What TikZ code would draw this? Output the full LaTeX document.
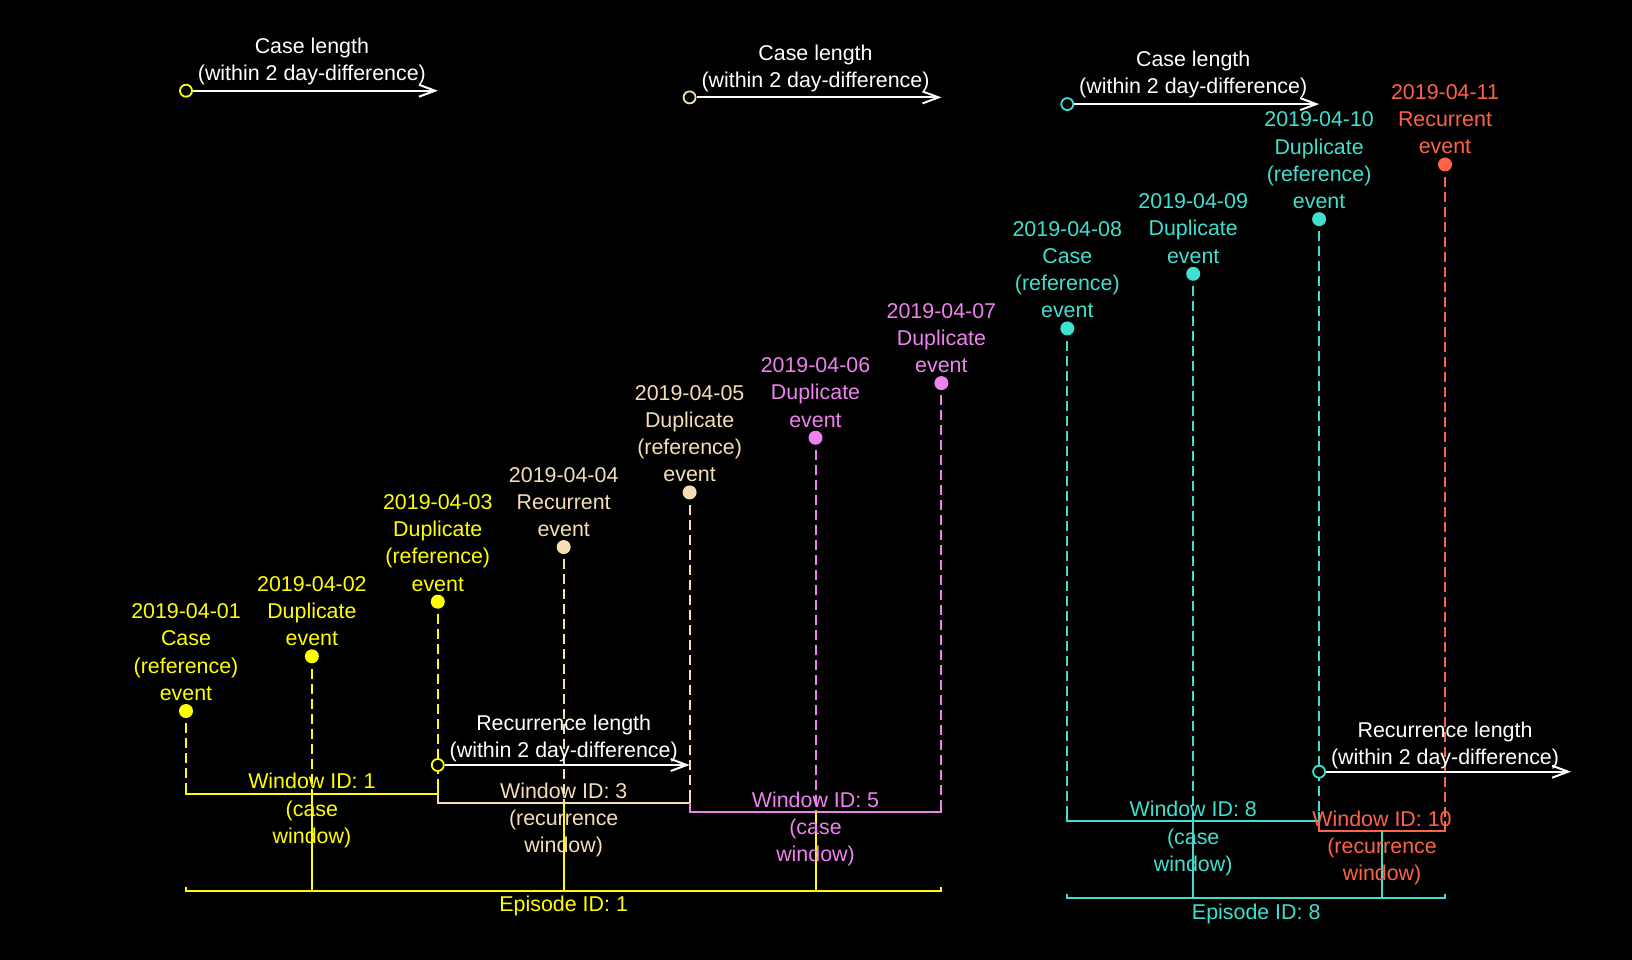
\documentclass[tikz,border=0pt]{standalone}
\usepackage{fontspec}
\setmainfont{Liberation Sans}
\usepackage{tikz}
\usetikzlibrary{positioning,arrows.meta}
\definecolor{evyellow}{HTML}{FFFF00}
\definecolor{evwheat}{HTML}{F5DEB3}
\definecolor{evviolet}{HTML}{EE82EE}
\definecolor{evturq}{HTML}{40E0D0}
\definecolor{evtomato}{HTML}{FF6347}

\begin{document}
\begin{tikzpicture}[x=1pt, y=-1pt,
            every node/.style = {font=\fontsize{21.4}{27.2}\selectfont, align=center, inner sep=0pt},
            event/.style = {circle, fill, minimum size=14pt},
            ring/.style = {circle, draw=#1, fill=black, line width=1.8pt, minimum size=12pt},
            drop/.style = {line width=2pt, dash pattern=on 10pt off 5pt, dash phase=10pt},
            winline/.style = {line width=2pt},
            lenarrow/.style = {white, line width=2pt, -{Straight Barb[length=16pt, width=12pt]}}]
            \fill[black] (0,0) rectangle (1632,960);
            \useasboundingbox (0,0) rectangle (1632,960);
            \node[event, evyellow] (1) at (186,711) {};
            \node[event, evyellow] (2) at (311.9,656.35) {};
            \node[event, evyellow] (3) at (437.8,601.7) {};
            \node[event, evwheat] (4) at (563.7,547.05) {};
            \node[event, evwheat] (5) at (689.6,492.4) {};
            \node[event, evviolet] (6) at (815.5,437.75) {};
            \node[event, evviolet] (7) at (941.4,383.1) {};
            \node[event, evturq] (8) at (1067.3,328.45) {};
            \node[event, evturq] (9) at (1193.2,273.8) {};
            \node[event, evturq] (10) at (1319.1,219.15) {};
            \node[event, evtomato] (11) at (1445,164.5) {};
            \coordinate (b1) at (186,793.5);
            \coordinate (b2) at (311.9,793.5);
            \coordinate (b3) at (437.8,793.5);
            \coordinate (b4) at (563.7,802.8);
            \coordinate (b5) at (689.6,802.8);
            \coordinate (b6) at (815.5,812.1);
            \coordinate (b7) at (941.4,812.1);
            \coordinate (b8) at (1067.3,821.4);
            \coordinate (b9) at (1193.2,821.4);
            \coordinate (b10) at (1319.1,821.4);
            \coordinate (b11) at (1445,830.7);
            \coordinate (w3l) at (437.8,802.8);
            \coordinate (w5l) at (689.6,812.1);
            \coordinate (w10l) at (1319.1,830.7);
            \coordinate (w10c) at (1382.05,830.7);
            \coordinate (p1l) at (186,890.5);
            \coordinate (p1r) at (941.4,890.5);
            \coordinate (p8l) at (1067.3,898);
            \coordinate (p8r) at (1445,898);
            \draw[drop, evyellow] (1) -- (b1);
            \draw[drop, evyellow] (2) -- (b2);
            \draw[drop, evyellow] (3) -- (b3);
            \draw[drop, evwheat] (4) -- (b4);
            \draw[drop, evwheat] (5) -- (b5);
            \draw[drop, evviolet] (6) -- (b6);
            \draw[drop, evviolet] (7) -- (b7);
            \draw[drop, evturq] (8) -- (b8);
            \draw[drop, evturq] (9) -- (b9);
            \draw[drop, evturq] (10) -- (b10);
            \draw[drop, evtomato] (11) -- (b11);
            \draw[winline, evyellow] ([yshift=9.3pt]b1) -- (b1) -- (b3) -- ([yshift=9.3pt]b3);
            \draw[winline, evwheat] ([yshift=9.3pt]w3l) -- (w3l) -- (b5) -- ([yshift=9.3pt]b5);
            \draw[winline, evviolet] ([yshift=9.3pt]w5l) -- (w5l) -- (b7) -- ([yshift=9.3pt]b7);
            \draw[winline, evturq] ([yshift=9.3pt]b8) -- (b8) -- (b10) -- ([yshift=9.3pt]b10);
            \draw[winline, evtomato] ([yshift=9.3pt]w10l) -- (w10l) -- (b11) -- ([yshift=9.3pt]b11);
            \draw[winline, evyellow] ([yshift=4pt]p1l) -- (p1l) -- (p1r) -- ([yshift=4pt]p1r);
            \draw[winline, evyellow] (b2) -- (b2 |- p1l) (b4) -- (b4 |- p1l) (b6) -- (b6 |- p1l);
            \draw[winline, evturq] ([yshift=4pt]p8l) -- (p8l) -- (p8r) -- ([yshift=4pt]p8r);
            \draw[winline, evturq] (b9) -- (b9 |- p8l) (w10c) -- (w10c |- p8l);
            \node[ring=evyellow] (a1) at (186,90.7) {};
            \node[ring=evwheat] (a2) at (689.6,97.4) {};
            \node[ring=evturq] (a3) at (1067.3,104.1) {};
            \node[ring=evyellow] (r1) at (437.8,765) {};
            \node[ring=evturq] (r2) at (1319.1,771.7) {};
            \coordinate (a1e) at (437.8,90.7);
            \coordinate (a2e) at (941.4,97.4);
            \coordinate (a3e) at (1319.1,104.1);
            \coordinate (r1e) at (689.6,765);
            \coordinate (r2e) at (1571,771.7);
            \draw[lenarrow] (a1) -- (a1e);
            \draw[lenarrow] (a2) -- (a2e);
            \draw[lenarrow] (a3) -- (a3e);
            \draw[lenarrow] (r1) -- (r1e);
            \draw[lenarrow] (r2) -- (r2e);
            \node[white, anchor=south] (al1) at (311.9,85.2) {Case length\\(within 2 day-difference)};
            \node[white, anchor=south] (al2) at (815.5,91.9) {Case length\\(within 2 day-difference)};
            \node[white, anchor=south] (al3) at (1193.2,98.6) {Case length\\(within 2 day-difference)};
            \node[white, anchor=south] (rl1) at (563.7,762.2) {Recurrence length\\(within 2 day-difference)};
            \node[white, anchor=south] (rl2) at (1445,768.9) {Recurrence length\\(within 2 day-difference)};
            \node[evyellow, above=3pt of 1] (t1) {2019-04-01\\Case\\(reference)\\event};
            \node[evyellow, above=3pt of 2] (t2) {2019-04-02\\Duplicate\\event};
            \node[evyellow, above=3pt of 3] (t3) {2019-04-03\\Duplicate\\(reference)\\event};
            \node[evwheat, above=3pt of 4] (t4) {2019-04-04\\Recurrent\\event};
            \node[evwheat, above=3pt of 5] (t5) {2019-04-05\\Duplicate\\(reference)\\event};
            \node[evviolet, above=3pt of 6] (t6) {2019-04-06\\Duplicate\\event};
            \node[evviolet, above=3pt of 7] (t7) {2019-04-07\\Duplicate\\event};
            \node[evturq, above=3pt of 8] (t8) {2019-04-08\\Case\\(reference)\\event};
            \node[evturq, above=3pt of 9] (t9) {2019-04-09\\Duplicate\\event};
            \node[evturq, above=3pt of 10] (t10) {2019-04-10\\Duplicate\\(reference)\\event};
            \node[evtomato, above=3pt of 11] (t11) {2019-04-11\\Recurrent\\event};
            \node[evyellow, anchor=north] (wl1) at (311.9,773.2) {Window ID: 1\\(case\\window)};
            \node[evwheat, anchor=north] (wl3) at (563.7,782.5) {Window ID: 3\\(recurrence\\window)};
            \node[evviolet, anchor=north] (wl5) at (815.5,791.8) {Window ID: 5\\(case\\window)};
            \node[evturq, anchor=north] (wl8) at (1193.2,801.1) {Window ID: 8\\(case\\window)};
            \node[evtomato, anchor=north] (wl10) at (1382.05,810.4) {Window ID: 10\\(recurrence\\window)};
            \node[evyellow, anchor=north] (ep1) at (563.7,896) {Episode ID: 1};
            \node[evturq, anchor=north] (ep8) at (1256.2,903.5) {Episode ID: 8};
\end{tikzpicture}
\end{document}
